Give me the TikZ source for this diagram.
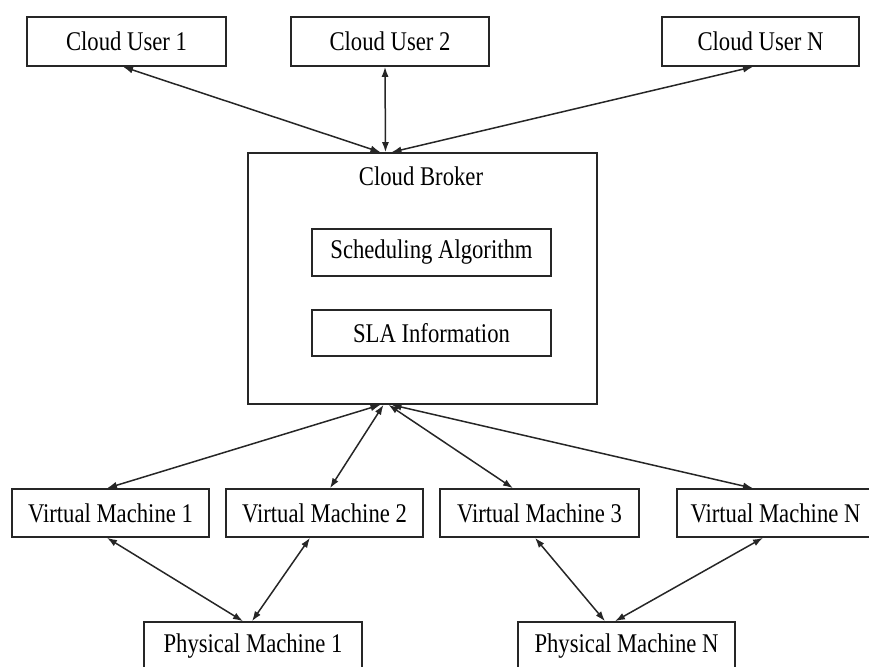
\documentclass[tikz,border=0pt]{standalone}
\usepackage{fontspec}
\setmainfont[FakeStretch=0.84]{Liberation Serif}
\usetikzlibrary{arrows.meta,calc}
\begin{document}
\begin{tikzpicture}[x=1pt,y=-1pt,
  box/.style={draw=black!85,line width=1.6pt,rectangle,inner sep=0pt,font=\fontsize{27}{30}\selectfont},
  conn/.style={{Latex[length=10pt,width=7pt]}-{Latex[length=10pt,width=7pt]},line width=1.5pt,draw=black!85}]
\useasboundingbox (0,0) rectangle (869,666);
\clip (0,0) rectangle (869,666);
% top users
\node[box,minimum width=199,minimum height=49] (cu1) at (126.5,41.5) {Cloud User 1};
\node[box,minimum width=198,minimum height=49] (cu2) at (390,41.5) {Cloud User 2};
\node[box,minimum width=197,minimum height=49] (cun) at (760.5,41.5) {Cloud User N};
% broker
\node[box,minimum width=349,minimum height=251] (broker) at (422.5,278.5) {};
\node[font=\fontsize{27}{30}\selectfont,inner sep=0pt] (brokerlabel) at (421,176) {Cloud Broker};
\node[box,minimum width=239,minimum height=47] (sched) at (431.5,252.5) {Scheduling Algorithm};
\node[box,minimum width=239,minimum height=46] (sla) at (431.5,333) {SLA Information};
% virtual machines
\node[box,minimum width=197,minimum height=48] (vm1) at (110.5,513) {Virtual Machine 1};
\node[box,minimum width=197,minimum height=48] (vm2) at (324.5,513) {Virtual Machine 2};
\node[box,minimum width=199,minimum height=48] (vm3) at (539.5,513) {Virtual Machine 3};
\node[box,minimum width=197,minimum height=48] (vmn) at (775.5,513) {Virtual Machine N};
% physical machines
\node[box,minimum width=218,minimum height=48] (pm1) at (253,646) {Physical Machine 1};
\node[box,minimum width=217,minimum height=48] (pmn) at (626.5,646) {Physical Machine N};
% connectors users-broker
\draw[conn] ([xshift=-3.5]cu1.south) -- ([xshift=-42]broker.north);
\draw[conn] ([xshift=-5]cu2.south) -- ([xshift=-37]broker.north);
\draw[conn] ([xshift=-7.5]cun.south) -- ([xshift=-31]broker.north);
% broker-vms
\draw[conn] ([xshift=-42]broker.south) -- ([xshift=-3.5]vm1.north);
\draw[conn] ([xshift=-39]broker.south) -- ([xshift=5.5]vm2.north);
\draw[conn] ([xshift=-34]broker.south) -- ([xshift=-26.5]vm3.north);
\draw[conn] ([xshift=-31]broker.south) -- ([xshift=-22.5]vmn.north);
% vms-pms
\draw[conn] ([xshift=-3.5]vm1.south) -- ([xshift=-10]pm1.north);
\draw[conn] ([xshift=-14.5]vm2.south) -- ([xshift=-1]pm1.north);
\draw[conn] ([xshift=-4.5]vm3.south) -- ([xshift=-21.5]pmn.north);
\draw[conn] ([xshift=-12.5]vmn.south) -- ([xshift=-11.5]pmn.north);
\end{tikzpicture}
\end{document}
